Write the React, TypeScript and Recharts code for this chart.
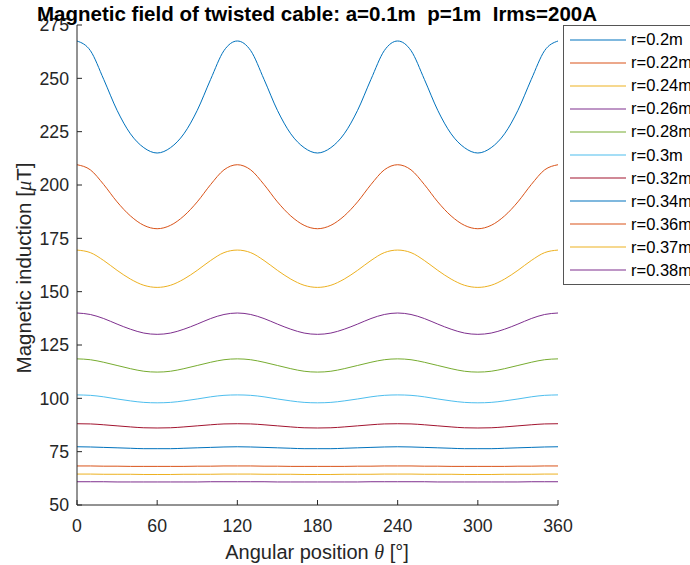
import React from 'react';
import { LineChart, Line, XAxis, YAxis, Legend } from 'recharts';

const thetas = [0, 10, 20, 30, 40, 50, 60, 70, 80, 90, 100, 110, 120, 130, 140, 150, 160, 170, 180, 190, 200, 210, 220, 230, 240, 250, 260, 270, 280, 290, 300, 310, 320, 330, 340, 350, 360];

const seriesNames = ['r=0.2m', 'r=0.22m', 'r=0.24m', 'r=0.26m', 'r=0.28m', 'r=0.3m', 'r=0.32m', 'r=0.34m', 'r=0.36m', 'r=0.37m', 'r=0.38m'];

const r020 = [267.5, 263, 249.5, 235, 224, 217.5, 215, 217.5, 224, 235, 249.5, 263, 267.5, 263, 249.5, 235, 224, 217.5, 215, 217.5, 224, 235, 249.5, 263, 267.5, 263, 249.5, 235, 224, 217.5, 215, 217.5, 224, 235, 249.5, 263, 267.5];
const r022 = [209.5, 207.1, 200.2, 192.1, 185.5, 181.1, 179.5, 181.1, 185.5, 192.1, 200.2, 207.1, 209.5, 207.1, 200.2, 192.1, 185.5, 181.1, 179.5, 181.1, 185.5, 192.1, 200.2, 207.1, 209.5, 207.1, 200.2, 192.1, 185.5, 181.1, 179.5, 181.1, 185.5, 192.1, 200.2, 207.1, 209.5];
const r024 = [169.5, 168.3, 164.6, 160, 155.9, 153, 152, 153, 155.9, 160, 164.6, 168.3, 169.5, 168.3, 164.6, 160, 155.9, 153, 152, 153, 155.9, 160, 164.6, 168.3, 169.5, 168.3, 164.6, 160, 155.9, 153, 152, 153, 155.9, 160, 164.6, 168.3, 169.5];
const r026 = [140, 139.3, 137.4, 134.8, 132.4, 130.6, 130, 130.6, 132.4, 134.8, 137.4, 139.3, 140, 139.3, 137.4, 134.8, 132.4, 130.6, 130, 130.6, 132.4, 134.8, 137.4, 139.3, 140, 139.3, 137.4, 134.8, 132.4, 130.6, 130, 130.6, 132.4, 134.8, 137.4, 139.3, 140];
const r028 = [118.5, 118.1, 116.9, 115.4, 113.9, 112.7, 112.3, 112.7, 113.9, 115.4, 116.9, 118.1, 118.5, 118.1, 116.9, 115.4, 113.9, 112.7, 112.3, 112.7, 113.9, 115.4, 116.9, 118.1, 118.5, 118.1, 116.9, 115.4, 113.9, 112.7, 112.3, 112.7, 113.9, 115.4, 116.9, 118.1, 118.5];
const r030 = [101.6, 101.4, 100.7, 99.7, 98.8, 98.1, 97.9, 98.1, 98.8, 99.7, 100.7, 101.4, 101.6, 101.4, 100.7, 99.7, 98.8, 98.1, 97.9, 98.1, 98.8, 99.7, 100.7, 101.4, 101.6, 101.4, 100.7, 99.7, 98.8, 98.1, 97.9, 98.1, 98.8, 99.7, 100.7, 101.4, 101.6];
const r032 = [88.1, 88, 87.6, 87.1, 86.6, 86.2, 86.1, 86.2, 86.6, 87.1, 87.6, 88, 88.1, 88, 87.6, 87.1, 86.6, 86.2, 86.1, 86.2, 86.6, 87.1, 87.6, 88, 88.1, 88, 87.6, 87.1, 86.6, 86.2, 86.1, 86.2, 86.6, 87.1, 87.6, 88, 88.1];
const r034 = [77.3, 77.2, 77, 76.8, 76.6, 76.4, 76.4, 76.4, 76.6, 76.8, 77, 77.2, 77.3, 77.2, 77, 76.8, 76.6, 76.4, 76.4, 76.4, 76.6, 76.8, 77, 77.2, 77.3, 77.2, 77, 76.8, 76.6, 76.4, 76.4, 76.4, 76.6, 76.8, 77, 77.2, 77.3];
const r036 = [68.3, 68.3, 68.2, 68.2, 68.1, 68.1, 68.1, 68.1, 68.1, 68.2, 68.2, 68.3, 68.3, 68.3, 68.2, 68.2, 68.1, 68.1, 68.1, 68.1, 68.1, 68.2, 68.2, 68.3, 68.3, 68.3, 68.2, 68.2, 68.1, 68.1, 68.1, 68.1, 68.1, 68.2, 68.2, 68.3, 68.3];
const r037 = [64.5, 64.5, 64.4, 64.4, 64.4, 64.3, 64.3, 64.3, 64.4, 64.4, 64.4, 64.5, 64.5, 64.5, 64.4, 64.4, 64.4, 64.3, 64.3, 64.3, 64.4, 64.4, 64.4, 64.5, 64.5, 64.5, 64.4, 64.4, 64.4, 64.3, 64.3, 64.3, 64.4, 64.4, 64.4, 64.5, 64.5];
const r038 = [60.9, 60.9, 60.9, 60.8, 60.8, 60.8, 60.8, 60.8, 60.8, 60.8, 60.9, 60.9, 60.9, 60.9, 60.9, 60.8, 60.8, 60.8, 60.8, 60.8, 60.8, 60.8, 60.9, 60.9, 60.9, 60.9, 60.9, 60.8, 60.8, 60.8, 60.8, 60.8, 60.8, 60.8, 60.9, 60.9, 60.9];

const seriesValues = [r020, r022, r024, r026, r028, r030, r032, r034, r036, r037, r038];

const xTicks = [0, 60, 120, 180, 240, 300, 360];
const yTicks = [50, 75, 100, 125, 150, 175, 200, 225, 250, 275];

const colors = ['#0072BD', '#D95319', '#EDB120', '#7E2F8E', '#77AC30', '#4DBEEE', '#A2142F', '#0072BD', '#D95319', '#EDB120', '#7E2F8E'];

const rows = thetas.map((t, i) => {
  const row: Record<string, number> = { theta: t };
  seriesNames.forEach((name, s) => {
    row[name] = seriesValues[s][i];
  });
  return row;
});

const FONT = "'Liberation Sans', Arial, Helvetica, sans-serif";
const AX = '#262626';
const tickStyle = { fontFamily: FONT, fontSize: 17.7, fill: AX };

const renderLegend = (props: any) => {
  const payload = [...(props.payload || [])].sort(
    (a: any, b: any) => seriesNames.indexOf(a.value) - seriesNames.indexOf(b.value)
  );
  return (
    <div
      style={{
        border: '1px solid #555',
        background: '#fff',
        padding: '2px 0 2px 0',
        width: 140,
        boxSizing: 'border-box',
        fontFamily: FONT,
        fontSize: 16.5,
        color: '#000',
      }}
    >
      {payload.map((e: any) => (
        <div key={e.value} style={{ display: 'flex', alignItems: 'center', height: 23.1 }}>
          <svg width={62} height={10} style={{ marginLeft: 5, flex: 'none' }}>
            <line x1={1} y1={5} x2={57} y2={5} stroke={e.color} strokeWidth={1.2} />
          </svg>
          <span style={{ whiteSpace: 'nowrap' }}>{e.value}</span>
        </div>
      ))}
    </div>
  );
};

export default function App() {
  return (
    <div style={{ position: 'absolute', left: 0, top: 0, width: 690, height: 565, overflow: 'hidden', background: '#fff' }}>
      <LineChart width={690} height={565} data={rows} margin={{ top: 25, right: 132, bottom: 30, left: 17 }}>
        <XAxis
          dataKey="theta"
          type="number"
          domain={[0, 360]}
          ticks={xTicks}
          tickSize={-5}
          tickMargin={19}
          height={30}
          stroke={AX}
          tick={tickStyle}
          interval={0}
        />
        <XAxis
          xAxisId="top"
          dataKey="theta"
          orientation="top"
          type="number"
          domain={[0, 360]}
          ticks={xTicks}
          tickSize={-5}
          height={0}
          stroke={AX}
          tick={false}
        />
        <YAxis
          type="number"
          domain={[50, 275]}
          ticks={yTicks}
          tickSize={-5}
          tickMargin={13}
          width={60}
          stroke={AX}
          tick={tickStyle}
          interval={0}
        />
        <YAxis
          yAxisId="right"
          orientation="right"
          type="number"
          domain={[50, 275]}
          ticks={yTicks}
          tickSize={-5}
          width={0}
          stroke={AX}
          tick={false}
        />
        <Legend
          content={renderLegend}
          layout="horizontal"
          verticalAlign="middle"
          align="center"
          wrapperStyle={{ position: 'absolute', left: 563, top: 25, width: 140 }}
        />
        {seriesNames.map((name, s) => (
          <Line
            key={name}
            dataKey={name}
            name={name}
            stroke={colors[s]}
            strokeWidth={1}
            dot={false}
            type="monotone"
            isAnimationActive={false}
          />
        ))}
      </LineChart>
      <div
        style={{
          position: 'absolute',
          left: 317,
          top: 2,
          transform: 'translateX(-50%)',
          whiteSpace: 'nowrap',
          fontFamily: FONT,
          fontWeight: 'bold',
          fontSize: 20.5,
          lineHeight: 'normal',
          color: '#000',
        }}
      >
        Magnetic field of twisted cable: a=0.1m&nbsp;&nbsp;p=1m&nbsp;&nbsp;Irms=200A
      </div>
      <div
        style={{
          position: 'absolute',
          left: 317,
          top: 541,
          transform: 'translateX(-50%)',
          whiteSpace: 'nowrap',
          fontFamily: FONT,
          fontSize: 20,
          lineHeight: 'normal',
          color: AX,
        }}
      >
        Angular position <i style={{ fontFamily: "'Liberation Serif', serif" }}>θ</i> [°]
      </div>
      <div
        style={{
          position: 'absolute',
          left: 24,
          top: 268,
          transform: 'translate(-50%, -50%) rotate(-90deg)',
          whiteSpace: 'nowrap',
          fontFamily: FONT,
          fontSize: 20.5,
          lineHeight: 'normal',
          color: AX,
        }}
      >
        Magnetic induction [<i style={{ fontFamily: "'Liberation Serif', serif" }}>μ</i>T]
      </div>
    </div>
  );
}
